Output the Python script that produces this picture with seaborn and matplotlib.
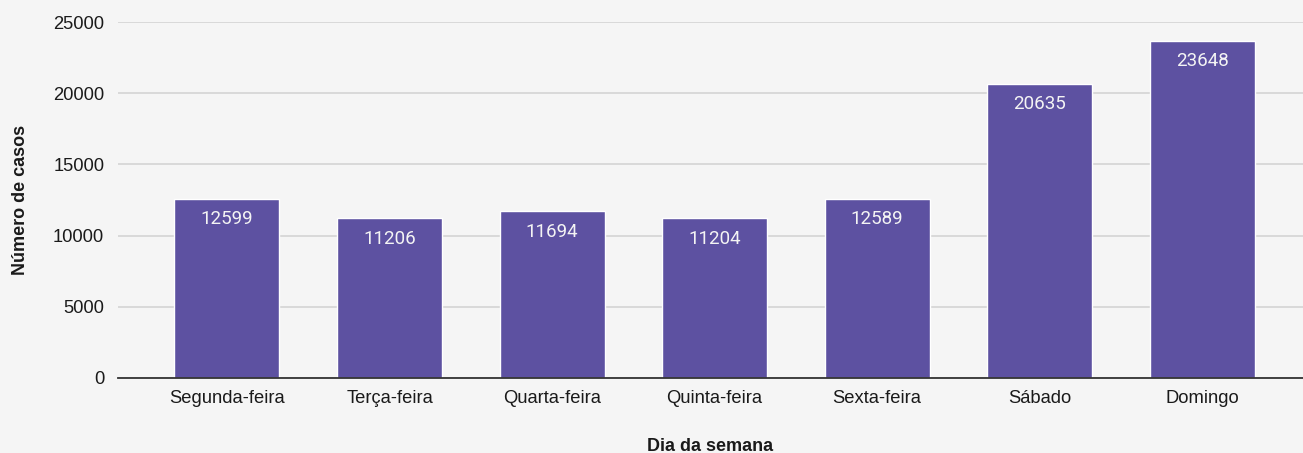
import pandas as pd
import matplotlib.pyplot as plt
import seaborn as sns

# Casos por dia da semana
dias = ['Segunda-feira', 'Terça-feira', 'Quarta-feira', 'Quinta-feira',
        'Sexta-feira', 'Sábado', 'Domingo']
casos = [12599, 11206, 11694, 11204, 12589, 20635, 23648]
yticks = [0, 5000, 10000, 15000, 20000, 25000]

df = pd.DataFrame({'dia': dias, 'casos': casos})

sns.set_theme(style="white")
plt.rcParams['font.family'] = ['Liberation Sans', 'DejaVu Sans']

bg = '#f5f5f5'
fig = plt.figure(figsize=(13.03, 4.53), dpi=100, facecolor=bg)
ax = fig.add_axes([0.0906, 0.1656, 0.9094, 0.7858])
ax.set_facecolor(bg)

sns.barplot(data=df, x='dia', y='casos', color='#5d51a1', saturation=1,
            width=0.646, ax=ax, zorder=3)

# rótulos de valor dentro das barras
for p, v in zip(ax.patches, casos):
    ax.annotate(str(v), (p.get_x() + p.get_width() / 2, p.get_height()),
                xytext=(0, -8), textcoords='offset points', ha='center', va='top',
                color='#f4f4f4', fontsize=13.5, family=['Roboto', 'DejaVu Sans'], zorder=4)

ax.set_ylim(0, 25000)
ax.set_xlim(-0.67, 6.62)
ax.set_yticks(yticks)
ax.set_yticklabels([str(t) for t in yticks])
ax.yaxis.grid(True, color='#d6d6d6', linewidth=1.3, zorder=0)
ax.set_axisbelow(True)

for s in ['top', 'right', 'left']:
    ax.spines[s].set_visible(False)
ax.spines['bottom'].set_color('#333333')
ax.spines['bottom'].set_linewidth(1.3)
ax.spines['bottom'].set_zorder(5)

ax.tick_params(axis='both', length=0, labelsize=13.2, colors='#1a1a1a')
ax.tick_params(axis='x', pad=9)
ax.tick_params(axis='y', pad=10)

ax.set_xlabel('Dia da semana', fontsize=13, fontweight='bold', color='#1a1a1a', labelpad=22)
ax.set_ylabel('Número de casos', fontsize=13, fontweight='bold', color='#1a1a1a', labelpad=17)

fig.savefig('out.png', dpi=100, facecolor=bg)
